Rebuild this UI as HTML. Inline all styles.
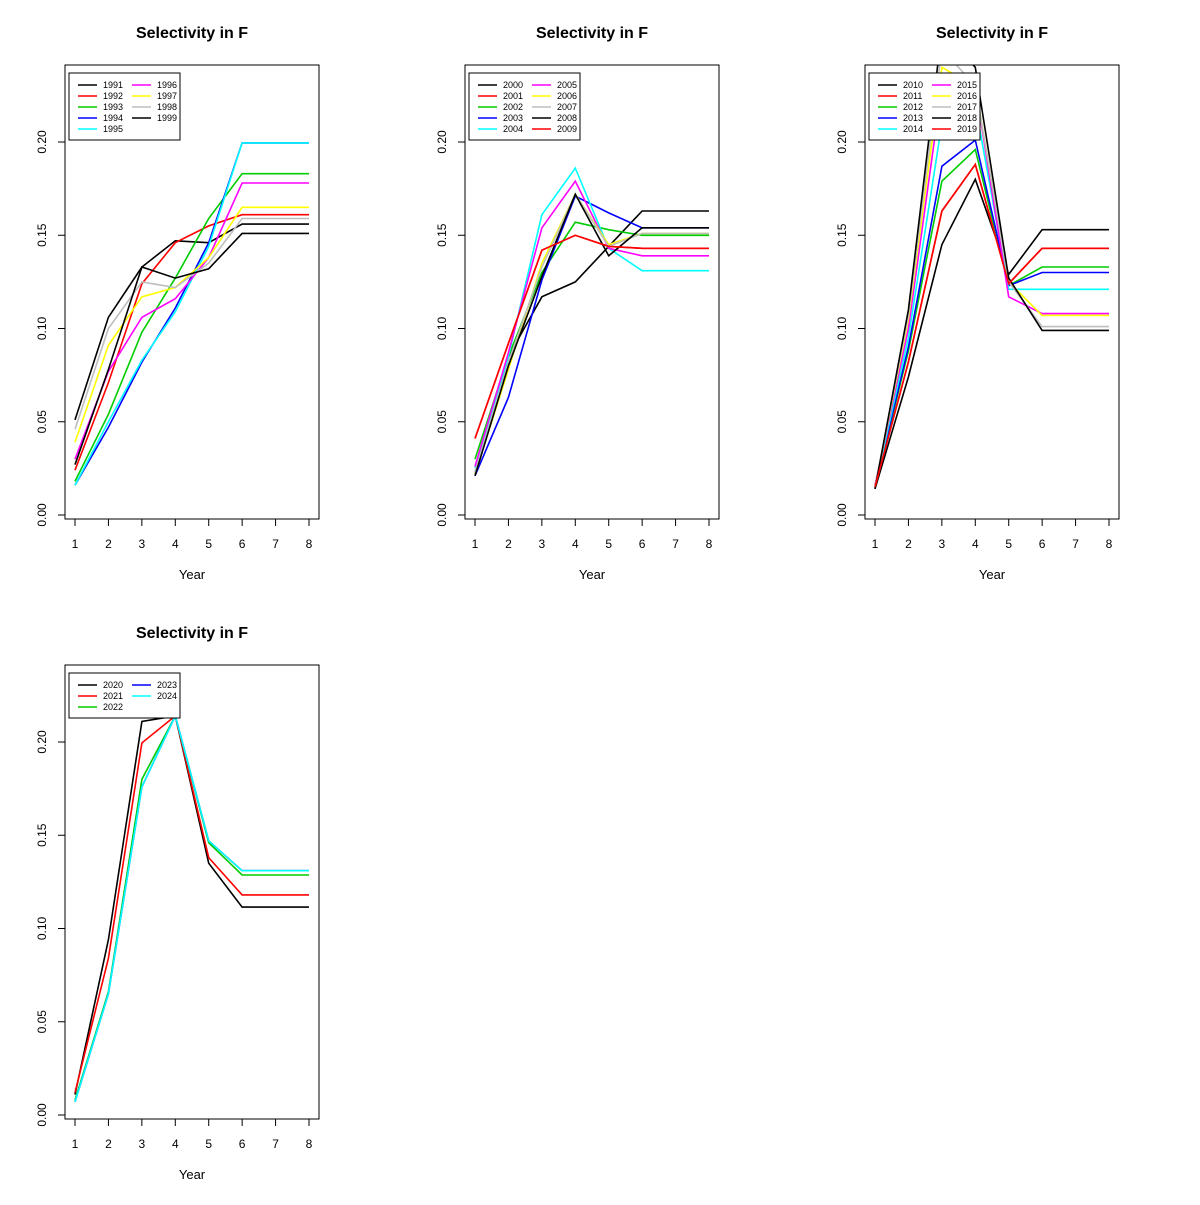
<!DOCTYPE html>
<html><head><meta charset="utf-8"><style>
body{margin:0;background:#fff;}
svg{font-family:"Liberation Sans",Arial,sans-serif;}
</style></head><body>
<svg id="chart" width="1200" height="1200" viewBox="0 0 1200 1200" xmlns="http://www.w3.org/2000/svg"></svg>
<script>
const ages = [1,2,3,4,5,6,7,8];
const yTicks = [0, 0.05, 0.10, 0.15, 0.20];
const yTickLabels = ["0.00","0.05","0.10","0.15","0.20"];
const colors = ["#000000","#ff0000","#00cd00","#0000ff","#00ffff","#ff00ff","#ffff00","#bebebe","#000000","#ff0000"];

const years1 = ["1991","1992","1993","1994","1995","1996","1997","1998","1999"];
const vals1 = [
 [0.051,0.106,0.133,0.147,0.146,0.156],
 [0.024,0.071,0.124,0.146,0.155,0.161],
 [0.018,0.054,0.098,0.127,0.159,0.183],
 [0.016,0.047,0.082,0.111,0.146,0.1995],
 [0.016,0.050,0.083,0.109,0.144,0.1995],
 [0.030,0.077,0.106,0.116,0.138,0.178],
 [0.039,0.091,0.117,0.122,0.138,0.165],
 [0.046,0.100,0.125,0.122,0.135,0.159],
 [0.027,0.078,0.133,0.127,0.132,0.151]
];
const years2 = ["2000","2001","2002","2003","2004","2005","2006","2007","2008","2009"];
const vals2 = [
 [0.022,0.085,0.117,0.125,0.144,0.163],
 [0.041,0.092,0.142,0.150,0.144,0.143],
 [0.030,0.085,0.130,0.157,0.153,0.150],
 [0.021,0.063,0.126,0.171,0.162,0.154],
 [0.025,0.085,0.161,0.186,0.143,0.131],
 [0.026,0.087,0.154,0.179,0.143,0.139],
 [0.022,0.078,0.135,0.172,0.145,0.151],
 [0.023,0.082,0.133,0.172,0.144,0.151],
 [0.021,0.080,0.128,0.172,0.139,0.154],
 [0.041,0.092,0.142,0.150,0.144,0.143]
];
const years3 = ["2010","2011","2012","2013","2014","2015","2016","2017","2018","2019"];
const vals3 = [
 [0.014,0.074,0.145,0.180,0.129,0.153],
 [0.015,0.082,0.163,0.188,0.124,0.143],
 [0.015,0.088,0.179,0.196,0.123,0.133],
 [0.015,0.090,0.187,0.201,0.123,0.130],
 [0.015,0.095,0.210,0.220,0.121,0.121],
 [0.016,0.100,0.230,0.230,0.117,0.108],
 [0.015,0.105,0.240,0.230,0.125,0.107],
 [0.015,0.107,0.250,0.230,0.125,0.101],
 [0.014,0.110,0.260,0.240,0.127,0.099],
 [0.015,0.082,0.163,0.188,0.124,0.143]
];
const years4 = ["2020","2021","2022","2023","2024"];
const vals4 = [
 [0.011,0.094,0.211,0.214,0.135,0.1115],
 [0.012,0.084,0.1995,0.214,0.138,0.118],
 [0.008,0.066,0.180,0.214,0.146,0.1287],
 [0.007,0.065,0.176,0.214,0.147,0.131],
 [0.007,0.065,0.176,0.214,0.147,0.131]
];

const NS="http://www.w3.org/2000/svg";
const svg=document.getElementById('chart');
function mk(tag,attrs,parent){const e=document.createElementNS(NS,tag);for(const k in attrs)e.setAttribute(k,attrs[k]);(parent||svg).appendChild(e);return e;}

function panel(ox,oy,years,vals,idx){
  const L=ox+65,R=ox+319,T=oy+65,B=oy+519;
  const xs=a=>ox+75+(a-1)*(234/7);
  const ys=v=>oy+515-v*1865;
  const g=mk('g',{});
  
  
  const t=mk('text',{x:ox+192,y:oy+38,'text-anchor':'middle','font-size':16,'font-weight':'bold'},g);
  t.textContent='Selectivity in F';
  
  
  const clip=mk('clipPath',{id:'clip'+idx},g);
  mk('rect',{x:L,y:T,width:R-L,height:B-T},clip);
  const lines=mk('g',{'clip-path':'url(#clip'+idx+')'},g);
  vals.forEach((s,i)=>{
    const full=s.concat([s[5],s[5]]);
    const pts=ages.map((a,j)=>xs(a).toFixed(1)+','+ys(full[j]).toFixed(1)).join(' ');
    const p=mk('polyline',{points:pts,fill:'none',stroke:colors[i],'stroke-width':1.6},lines);
    
    
  });
  const box=mk('rect',{x:L,y:T,width:R-L,height:B-T,fill:'none',stroke:'#000','stroke-width':1},g);
  
  
  mk('line',{x1:xs(1),x2:xs(8),y1:B,y2:B,stroke:'#000'},g);
  ages.forEach(a=>{
    mk('line',{x1:xs(a),x2:xs(a),y1:B,y2:B+7,stroke:'#000'},g);
    const tl=mk('text',{x:xs(a),y:B+29,'text-anchor':'middle','font-size':12},g);
    tl.textContent=a;
    
    
  });
  const xt=mk('text',{x:ox+192,y:oy+579,'text-anchor':'middle','font-size':13},g);
  xt.textContent='Year';
  
  
  mk('line',{x1:L,x2:L,y1:ys(0),y2:ys(0.2),stroke:'#000'},g);
  yTicks.forEach((v,i)=>{
    mk('line',{x1:L-7,x2:L,y1:ys(v),y2:ys(v),stroke:'#000'},g);
    const tl=mk('text',{x:0,y:0,'text-anchor':'middle','font-size':12,transform:`translate(${ox+46},${ys(v)}) rotate(-90)`},g);
    tl.textContent=yTickLabels[i];
    
    
  });
  const useRows=years.length<=5?3:5;
  const lg=mk('g',{},g);
  
  
  mk('rect',{x:ox+69,y:oy+73,width:111,height:useRows*11+12,fill:'#fff',stroke:'#000','stroke-width':1},lg);
  years.forEach((y,i)=>{
    const col=Math.floor(i/useRows),row=i%useRows;
    const lx=ox+78+col*54,ly=oy+85+row*11;
    mk('line',{x1:lx,x2:lx+19,y1:ly,y2:ly,stroke:colors[i],'stroke-width':1.6},lg);
    const te=mk('text',{x:lx+25,y:ly+3,'font-size':9},lg);
    te.textContent=y;
    
    
  });
}
panel(0,0,years1,vals1,1);
panel(400,0,years2,vals2,2);
panel(800,0,years3,vals3,3);
panel(0,600,years4,vals4,4);
</script>
</body></html>
